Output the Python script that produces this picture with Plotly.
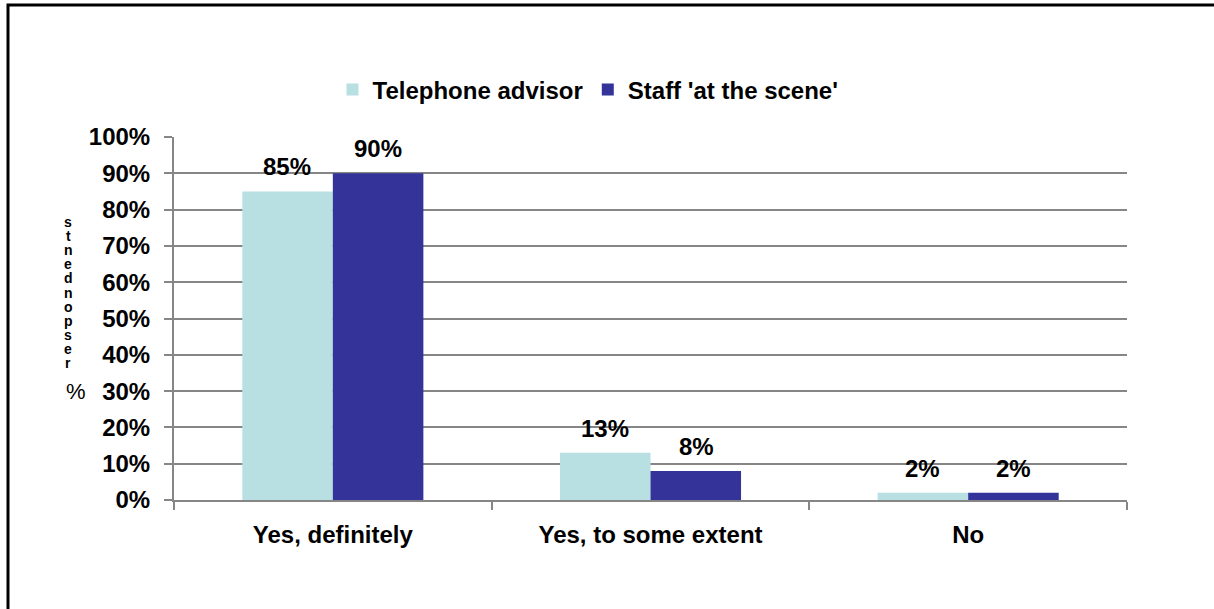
import plotly.graph_objects as go

categories = ["Yes, definitely", "Yes, to some extent", "No"]
telephone_advisor = [85, 13, 2]
staff_at_scene = [90, 8, 2]
series_names = ["Telephone advisor", "Staff 'at the scene'"]
y_ticks = [0, 10, 20, 30, 40, 50, 60, 70, 80, 90, 100]
y_tick_labels = [f"{v}%" for v in y_ticks]
axis_title_word = "respondents"

FONT = "Liberation Sans, Arial, sans-serif"
W, H = 1214, 609
L, R, T, B = 174, 87, 137, 109
PW, PH = W - L - R, H - T - B
BAR_SHIFT = 45.5  # half a bar width in pixels


def px_x(px):
    return (px - L) / PW


def px_y(py):
    return (H - B - py) / PH


fig = go.Figure()
fig.add_trace(go.Bar(
    name=f"<b>{series_names[0]}</b>", x=categories, y=telephone_advisor,
    marker=dict(color="#B8E0E3", line=dict(width=0)),
))
fig.add_trace(go.Bar(
    name=f"<b>{series_names[1]}</b>", x=categories, y=staff_at_scene,
    marker=dict(color="#333399", line=dict(width=0)),
))

annotations = []
# value labels above each bar
for vals, shift in ((telephone_advisor, -BAR_SHIFT), (staff_at_scene, BAR_SHIFT)):
    for cat, v in zip(categories, vals):
        annotations.append(dict(
            text=f"<b>{v}%</b>", x=cat, y=v, xref="x", yref="y",
            xshift=shift, yshift=9, showarrow=False,
            xanchor="center", yanchor="bottom",
            font=dict(family=FONT, size=24, color="black"),
        ))

# axis title: letters stacked vertically, reading bottom to top
top_py, bottom_py = 222, 363
step = (bottom_py - top_py) / (len(axis_title_word) - 1)
for i, ch in enumerate(axis_title_word):
    annotations.append(dict(
        text=f"<b>{ch}</b>", x=px_x(68), y=px_y(bottom_py - i * step),
        xref="paper", yref="paper", showarrow=False,
        xanchor="center", yanchor="middle",
        font=dict(family=FONT, size=14, color="black"),
    ))
annotations.append(dict(
    text="%", x=px_x(76), y=px_y(391), xref="paper", yref="paper",
    showarrow=False, xanchor="center", yanchor="middle",
    font=dict(family=FONT, size=22, color="black"),
))

fig.update_layout(
    width=W, height=H,
    margin=dict(l=L, r=R, t=T, b=B, pad=0),
    paper_bgcolor="white", plot_bgcolor="white",
    barmode="group", bargap=0.43, bargroupgap=0,
    font=dict(family=FONT, size=24, color="black"),
    showlegend=True,
    legend=dict(
        orientation="h", x=px_x(588), xanchor="center", y=px_y(90), yanchor="middle",
        font=dict(family=FONT, size=24, color="black"),
        itemwidth=30, traceorder="normal",
    ),
    annotations=annotations,
    shapes=[dict(
        type="rect", xref="paper", yref="paper",
        x0=px_x(8), x1=px_x(1240), y0=px_y(640), y1=px_y(5),
        line=dict(color="black", width=3), fillcolor="rgba(0,0,0,0)", layer="above",
    )],
)
fig.update_xaxes(
    tickvals=categories, ticktext=[f"<b>{c}</b>" for c in categories],
    showline=True, linecolor="#868686", linewidth=2,
    ticks="outside", ticklen=8, tickcolor="#868686", tickwidth=2,
    tickson="boundaries", showgrid=False,
    tickfont=dict(family=FONT, size=24, color="black"),
    ticklabelstandoff=12,
)
fig.update_yaxes(
    range=[0, 100], tickvals=y_ticks, ticktext=[f"<b>{t}</b>" for t in y_tick_labels],
    showline=True, linecolor="#868686", linewidth=2,
    ticks="outside", ticklen=8, tickcolor="#868686", tickwidth=2,
    showgrid=True, gridcolor="#868686", gridwidth=2,
    zeroline=False,
    tickfont=dict(family=FONT, size=24, color="black"),
    ticklabelstandoff=9,
)

fig.write_html("out.html")
